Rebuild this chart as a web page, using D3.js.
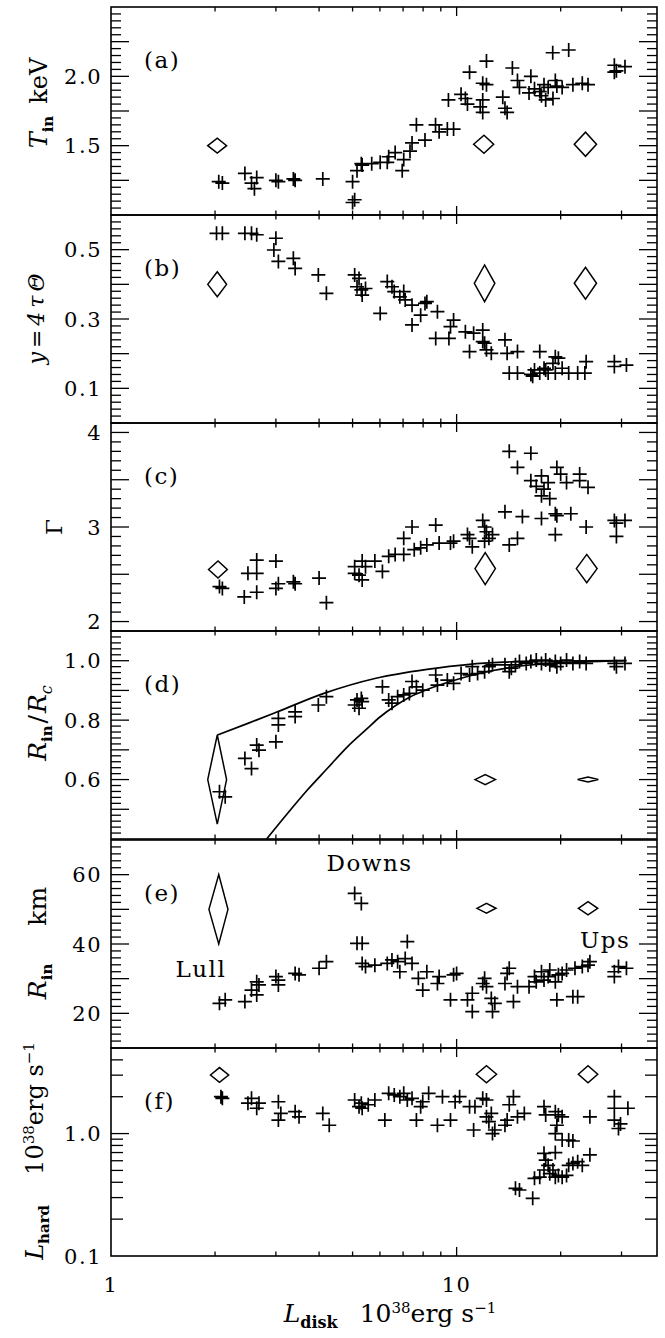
<!DOCTYPE html>
<html><head><meta charset="utf-8">
<script src="https://cdn.jsdelivr.net/npm/d3@7"></script>
<style>
body{margin:0;background:#fff}
svg{display:block}
text{font-family:"DejaVu Serif",serif;fill:#000}
</style>
</head><body>
<svg id="c" width="665" height="1338"></svg>
<script>
// ---------- DATA ----------
const xDomain = [1, 38];
const xTickValues = [1, 10];
const xTickLabels = ["1", "10"];

// panel (a) T_in keV
const tinDomain = [1.0, 2.5];
const tinTicks = [1.5, 2.0];
const tinTickLabels = ["1.5", "2.0"];
const tinData = [[2.05,1.24],[2.10,1.23],[2.44,1.30],[2.55,1.23],[2.64,1.27],[2.60,1.19],[3.0,1.25],[3.05,1.24],[3.37,1.26],[3.41,1.25],[4.1,1.26],[5.0,1.24],[5.07,1.11],[5.0,1.09],[5.15,1.32],[5.3,1.37],[5.33,1.36],[5.68,1.37],[6.01,1.38],[6.3,1.38],[6.36,1.42],[6.64,1.45],[6.96,1.32],[7.03,1.40],[7.33,1.46],[7.43,1.52],[7.65,1.65],[8.1,1.54],[8.69,1.65],[8.9,1.60],[9.4,1.62],[9.8,1.62],[9.47,1.83],[10.3,1.87],[10.6,1.84],[10.9,2.03],[10.75,1.80],[11.9,1.95],[12.2,2.11],[11.9,1.83],[11.7,1.78],[11.9,1.74],[12.2,1.94],[13.6,1.85],[13.8,1.77],[14.0,1.74],[14.5,2.06],[15.0,1.97],[15.2,1.92],[16.4,2.0],[16.8,1.91],[17.4,1.89],[17.9,1.94],[18.4,1.92],[18.97,2.17],[19.3,1.97],[19.0,1.84],[19.5,1.93],[20.2,1.92],[21.1,2.19],[21.7,1.94],[23.1,1.95],[24.0,1.94],[28.6,2.08],[29.0,2.04],[30.7,2.07],[28.6,2.03],[17.6,1.86],[18.1,1.83],[16.2,1.88]];
// diamonds: [x, y, xlo, xhi, ylo, yhi]
const tinDiamonds = [[2.03,1.50,1.905,2.16,1.446,1.554],[12.0,1.51,11.2,12.8,1.445,1.575],[23.6,1.51,21.9,25.4,1.423,1.597]];

// panel (b) y = 4 tau Theta
const yDomain = [0, 0.6];
const yTicks = [0.1, 0.3, 0.5];
const yTickLabels = ["0.1", "0.3", "0.5"];
const yData = [[2.02,0.547],[2.10,0.547],[2.44,0.547],[2.55,0.547],[2.64,0.543],[3.0,0.533],[2.96,0.499],[3.05,0.466],[3.37,0.475],[3.41,0.446],[3.98,0.427],[4.2,0.374],[5.07,0.427],[5.22,0.417],[5.15,0.393],[5.3,0.384],[5.45,0.388],[5.33,0.369],[6.01,0.316],[6.3,0.408],[6.5,0.393],[6.6,0.379],[6.85,0.364],[7.03,0.379],[7.1,0.355],[7.43,0.283],[7.43,0.34],[7.87,0.311],[8.1,0.345],[8.2,0.35],[8.8,0.321],[8.7,0.244],[9.5,0.244],[9.8,0.297],[9.6,0.278],[10.6,0.263],[10.9,0.206],[11.2,0.259],[11.9,0.268],[12.05,0.23],[12.2,0.211],[12.6,0.201],[11.9,0.235],[13.8,0.24],[14.0,0.201],[14.2,0.144],[15.0,0.206],[15.0,0.144],[16.4,0.14],[16.8,0.153],[17.4,0.206],[17.4,0.144],[17.9,0.158],[18.4,0.144],[19.0,0.172],[19.3,0.191],[19.7,0.187],[19.3,0.144],[20.2,0.158],[21.1,0.144],[22.4,0.144],[23.7,0.177],[23.5,0.144],[28.6,0.177],[28.6,0.163],[31,0.167],[16.6,0.135],[18.1,0.153]];
const yDiamonds = [[2.03,0.40,1.905,2.16,0.364,0.436],[12.05,0.403,11.25,12.9,0.35,0.456],[23.6,0.403,21.9,25.4,0.357,0.449]];

// panel (c) Gamma
const gammaDomain = [1.9, 4.1];
const gammaTicks = [2, 3, 4];
const gammaTickLabels = ["2", "3", "4"];
const gammaData = [[2.06,2.37],[2.10,2.35],[2.43,2.26],[2.49,2.51],[2.64,2.65],[2.64,2.51],[2.64,2.31],[3.0,2.64],[3.05,2.40],[3.0,2.35],[3.37,2.42],[3.41,2.40],[4.0,2.46],[4.2,2.20],[5.07,2.58],[5.07,2.51],[5.22,2.49],[5.33,2.44],[5.33,2.64],[5.45,2.58],[5.8,2.64],[6.1,2.53],[6.36,2.69],[6.64,2.71],[7.03,2.71],[7.03,2.88],[7.43,3.0],[7.54,2.76],[7.87,2.78],[8.2,2.81],[8.7,3.02],[8.9,2.83],[9.6,2.83],[9.8,2.85],[10.75,2.92],[10.9,2.88],[11.1,2.79],[11.9,3.07],[12.05,3.0],[12.2,2.95],[12.4,2.88],[12.05,2.85],[12.7,2.92],[13.8,3.16],[14.2,2.81],[15.0,2.88],[15.5,3.11],[14.2,3.80],[16.4,3.78],[15.0,3.63],[16.4,3.49],[17.0,3.43],[17.6,3.54],[17.9,3.40],[17.6,3.33],[18.4,3.47],[18.6,3.30],[19.5,3.63],[20.0,3.56],[20.8,3.47],[22.7,3.56],[22.7,3.49],[24.0,3.42],[17.6,3.09],[19.3,3.14],[19.3,2.92],[21.4,3.14],[23.7,3.0],[28.6,3.07],[29.0,3.04],[30.7,3.07],[29.0,2.90],[19.5,3.12]];
const gammaDiamonds = [[2.04,2.55,1.915,2.17,2.46,2.64],[12.1,2.56,11.3,12.95,2.39,2.73],[23.8,2.56,22.2,25.5,2.41,2.71]];

// panel (d) R_in/R_c
const ratioDomain = [0.4, 1.1];
const ratioTicks = [0.6, 0.8, 1.0];
const ratioTickLabels = ["0.6", "0.8", "1.0"];
const ratioData = [[2.06,0.559],[2.14,0.542],[2.44,0.671],[2.55,0.637],[2.64,0.716],[2.68,0.699],[3.05,0.806],[3.05,0.784],[3.0,0.727],[3.41,0.828],[3.41,0.812],[3.98,0.851],[4.2,0.879],[5.07,0.851],[5.15,0.868],[5.3,0.873],[5.33,0.862],[5.22,0.84],[6.1,0.912],[6.36,0.868],[6.5,0.857],[6.75,0.879],[7.03,0.885],[7.3,0.89],[7.43,0.93],[7.65,0.912],[7.98,0.901],[8.7,0.952],[8.8,0.918],[9.4,0.935],[9.8,0.924],[10.3,0.957],[10.9,0.952],[11.1,0.98],[11.5,0.957],[12.05,0.963],[12.4,0.98],[12.7,0.986],[13.8,0.986],[14.2,0.963],[14.8,0.986],[15.2,0.997],[16.4,0.997],[17.0,1.002],[17.6,0.991],[18.1,1.002],[18.6,0.986],[19.3,0.997],[20.0,0.991],[20.8,1.002],[21.7,0.991],[22.7,0.997],[23.7,0.991],[28.6,0.991],[29.0,0.98],[30.7,0.991],[15.9,0.991],[19.5,0.98],[14.4,0.975]];
const ratioDiamonds = [[2.03,0.60,1.905,2.16,0.45,0.75],[12.1,0.60,11.3,12.95,0.583,0.617],[24.0,0.60,22.4,25.7,0.5915,0.6085]];
const upperCurve = [[2.03,0.75],[2.5,0.79],[3.03,0.828],[4.13,0.89],[5.84,0.941],[8.21,0.971],[10.9,0.988],[13.7,0.995],[18,0.999],[31,1.0]];
const lowerCurve = [[2.82,0.40],[3.24,0.486],[3.70,0.565],[4.23,0.638],[4.83,0.71],[5.52,0.772],[6.0,0.8105],[6.63,0.8476],[7.33,0.8779],[8.15,0.9014],[9.7,0.9317],[12.5,0.9654],[16.3,0.9856],[22.8,0.9957],[31,1.0]];

// panel (e) R_in km
const rinDomain = [10, 70];
const rinTicks = [20, 40, 60];
const rinTickLabels = ["20", "40", "60"];
const rinData = [[2.06,22.9],[2.14,23.9],[2.44,23.4],[2.55,26.7],[2.64,25.3],[2.64,29.1],[2.68,28.2],[3.0,30.6],[3.05,29.6],[3.05,28.2],[3.41,31.5],[3.5,31.1],[4.0,33],[4.2,34.9],[5.07,54.6],[5.3,51.7],[5.15,40.2],[5.33,40.2],[5.33,34.4],[5.45,33.5],[5.8,33.9],[6.3,34.4],[6.5,35.4],[6.75,34.9],[6.85,32],[7.2,40.7],[7.1,35.8],[7.43,34.4],[7.75,30.1],[7.98,26.7],[8.2,32],[8.8,28.6],[8.9,30.6],[9.8,31.1],[10,31.5],[9.6,23.9],[10.75,23.9],[11.1,25.8],[11.1,20.5],[11.9,28.6],[12.05,30.1],[12.2,27.7],[12.6,24.3],[12.7,20.5],[12.9,22.9],[14.0,31.5],[14.2,33],[13.8,28.6],[14.6,23.4],[15.0,27.7],[16.2,27.7],[16.8,30.6],[17.0,29.1],[17.6,32],[17.9,29.6],[18.4,30.6],[18.6,32.5],[19.3,29.1],[19.5,23.9],[19.7,31.1],[20.2,31.5],[20.8,32.5],[21.7,24.8],[22.4,24.8],[22.0,33],[23.1,33.5],[24.0,33.9],[24.3,34.9],[28.6,32],[28.6,30.6],[29.4,33.5],[31,33]];
const rinDiamonds = [[2.05,50,1.92,2.18,40,60],[12.2,50.3,11.45,13.0,48.9,51.7],[24.0,50.3,22.5,25.6,48.4,52.2]];
const stateNames = ["Downs", "Lull", "Ups"];
const stateAnchors = [[5.6,61.0],[1.82,30.5],[26.9,38.8]];

// panel (f) L_hard
const lhardDomain = [0.1, 5];
const lhardTicks = [0.1, 1.0];
const lhardTickLabels = ["0.1", "1.0"];
const lhardData = [[2.08,2.0],[2.10,1.94],[2.49,1.77],[2.55,1.94],[2.64,1.61],[2.68,1.77],[3.05,1.82],[3.1,1.46],[3.05,1.29],[3.41,1.51],[3.5,1.37],[4.1,1.46],[4.28,1.17],[5.07,1.88],[5.22,1.66],[5.3,1.77],[5.33,1.61],[5.55,1.72],[5.8,1.88],[6.2,1.29],[6.36,2.13],[6.6,2.07],[6.85,2.0],[7.03,2.13],[7.2,1.88],[7.43,1.94],[7.65,1.29],[7.87,1.66],[7.98,1.82],[8.3,2.13],[8.8,1.17],[9.1,2.0],[9.6,1.29],[9.9,1.82],[10.2,2.0],[10.9,1.66],[11.2,1.07],[11.3,1.66],[11.9,1.94],[12.2,1.88],[12.2,1.37],[12.4,1.25],[12.6,1.46],[12.7,1.0],[12.9,1.07],[13.8,1.17],[14.0,1.29],[14.2,1.72],[14.6,2.0],[15.0,1.37],[15.7,1.46],[17.9,1.66],[19.3,1.51],[19.7,1.42],[20.2,1.37],[19.3,1.0],[19.5,1.17],[21.1,0.886],[21.7,0.87],[14.8,0.357],[15.2,0.346],[16.6,0.296],[16.8,0.431],[17.4,0.44],[17.9,0.504],[18.1,0.608],[17.9,0.69],[18.4,0.55],[18.6,0.47],[19.3,0.70],[19.0,0.504],[19.3,0.44],[19.7,0.455],[20.2,0.44],[20.8,0.455],[21.1,0.55],[21.7,0.57],[22.4,0.59],[23.1,0.55],[24.3,0.67],[24.3,1.37],[28.6,2.0],[28.6,1.61],[28.6,1.29],[29.4,1.1],[29.8,1.2],[31.3,1.61],[20.2,0.886],[18.1,1.42]];
const lhardDiamonds = [[2.06,3.01,1.94,2.19,2.62,3.46],[12.2,3.05,11.4,13.05,2.60,3.58],[24.0,3.05,22.5,25.6,2.60,3.58]];

// ---------- LAYOUT ----------
const LEFT = 111, RIGHT = 657;
const TOPS = [7, 215, 423, 631, 840, 1048];
const PH = 208;
const svg = d3.select('#c');
const x = d3.scaleLog().domain(xDomain).range([LEFT, RIGHT]);
const xMinor = [2,3,4,5,6,7,8,9,20,30];

const rng = (a,b,s) => d3.range(Math.round(a/s), Math.round(b/s)+1).map(i => +(i*s).toFixed(4));

const panels = [
  {lab:'(a)', data:tinData, dia:tinDiamonds, dom:tinDomain, log:false, ticks:tinTicks, tl:tinTickLabels,
   major:rng(1.25,2.25,0.25), minor:rng(1.05,2.45,0.05)},
  {lab:'(b)', data:yData, dia:yDiamonds, dom:yDomain, log:false, ticks:yTicks, tl:yTickLabels,
   major:rng(0.1,0.5,0.1), minor:rng(0.02,0.58,0.02)},
  {lab:'(c)', data:gammaData, dia:gammaDiamonds, dom:gammaDomain, log:false, ticks:gammaTicks, tl:gammaTickLabels,
   major:rng(2,4,0.5), minor:rng(2,4.1,0.1)},
  {lab:'(d)', data:ratioData, dia:ratioDiamonds, dom:ratioDomain, log:false, ticks:ratioTicks, tl:ratioTickLabels,
   major:rng(0.5,1.0,0.1), minor:rng(0.42,1.08,0.02)},
  {lab:'(e)', data:rinData, dia:rinDiamonds, dom:rinDomain, log:false, ticks:rinTicks, tl:rinTickLabels,
   major:rng(20,60,10), minor:rng(12,68,2)},
  {lab:'(f)', data:lhardData, dia:lhardDiamonds, dom:lhardDomain, log:true, ticks:lhardTicks, tl:lhardTickLabels,
   major:[1], minor:[0.2,0.3,0.4,0.5,0.6,0.7,0.8,0.9,2,3,4]}
];

panels.forEach((p, i) => {
  const top = TOPS[i], bot = top + PH;
  const y = (p.log ? d3.scaleLog() : d3.scaleLinear()).domain(p.dom).range([bot, top]);
  p.y = y;
  const g = svg.append('g');

  // ticks
  const tk = g.append('g').attr('stroke', '#000').attr('stroke-width', 1.3);
  const yt = (v, len) => {
    const py = y(v);
    tk.append('line').attr('x1', LEFT).attr('x2', LEFT + len).attr('y1', py).attr('y2', py);
    tk.append('line').attr('x1', RIGHT).attr('x2', RIGHT - len).attr('y1', py).attr('y2', py);
  };
  p.minor.forEach(v => { if (!p.major.includes(v)) yt(v, p.log ? 12 : 10); });
  p.major.forEach(v => yt(v, 18));
  const xt = (v, len) => {
    const px = x(v);
    tk.append('line').attr('x1', px).attr('x2', px).attr('y1', bot).attr('y2', bot - len);
    tk.append('line').attr('x1', px).attr('x2', px).attr('y1', top).attr('y2', top + len);
  };
  xMinor.forEach(v => xt(v, 4.5));
  xt(10, 9);

  // frame
  g.append('rect').attr('x', LEFT).attr('y', top).attr('width', RIGHT - LEFT).attr('height', PH)
    .attr('fill', 'none').attr('stroke', '#000').attr('stroke-width', 1.6);

  // tick labels
  g.selectAll('text.tl').data(p.ticks).join('text')
    .attr('x', LEFT - 9).attr('y', v => y(v)).attr('dy', '0.36em')
    .attr('text-anchor', 'end').attr('font-size', 21).attr('letter-spacing', 1.5)
    .text((v, k) => p.tl[k]);

  // panel letter
  g.append('text').attr('x', 144).attr('y', top + 61).attr('font-size', 23).attr('letter-spacing', 1.5).text(p.lab);

  // diamonds
  g.selectAll('polygon').data(p.dia).join('polygon')
    .attr('points', d => [[x(d[2]), y(d[1])], [x(d[0]), y(d[5])], [x(d[3]), y(d[1])], [x(d[0]), y(d[4])]].map(q => q.join(',')).join(' '))
    .attr('fill', 'none').attr('stroke', '#000').attr('stroke-width', 1.5);

  // crosses
  const h = 7;
  g.append('path')
    .attr('d', p.data.map(d => {
      const px = x(d[0]), py = y(d[1]);
      return `M${px - h},${py}H${px + h}M${px},${py - h}V${py + h}`;
    }).join(''))
    .attr('fill', 'none').attr('stroke', '#000').attr('stroke-width', 1.7);
});

// model curves in panel d
{
  const p = panels[3];
  const line = d3.line().x(d => x(d[0])).y(d => p.y(d[1])).curve(d3.curveMonotoneX);
  svg.append('path').attr('d', line(upperCurve)).attr('fill', 'none').attr('stroke', '#000').attr('stroke-width', 1.7);
  svg.append('path').attr('d', line(lowerCurve)).attr('fill', 'none').attr('stroke', '#000').attr('stroke-width', 1.7);
}

// state labels in panel e
{
  const p = panels[4];
  svg.selectAll('text.st').data(stateNames).join('text')
    .attr('x', (d, k) => x(stateAnchors[k][0])).attr('y', (d, k) => p.y(stateAnchors[k][1]))
    .attr('text-anchor', 'middle').attr('font-size', 23).attr('letter-spacing', 1.5)
    .text(d => d);
}

// x tick labels
svg.selectAll('text.xt').data(xTickValues).join('text')
  .attr('x', d => x(d)).attr('y', 1292).attr('text-anchor', 'middle')
  .attr('font-size', 21).attr('letter-spacing', 1.5)
  .text((d, k) => xTickLabels[k]);

// axis titles
function rotLabel(cx, cy, fs, build) {
  const t = svg.append('text').attr('transform', `translate(${cx},${cy}) rotate(-90)`)
    .attr('text-anchor', 'middle').attr('font-size', fs);
  build(t);
}
const sub = (t, s, fs = 15) => t.append('tspan').attr('font-size', fs).attr('font-weight', 'bold').attr('dy', 6).text(s);
const up = (t, s, extraDx = 0) => t.append('tspan').attr('dy', -6).attr('dx', extraDx).text(s);
const sup = (t, s) => t.append('tspan').attr('font-size', 15).attr('dy', -9).text(s);
const back = (t, s) => t.append('tspan').attr('dy', 9).text(s);

rotLabel(47, 103, 24, t => {
  t.append('tspan').attr('font-style', 'italic').text('T');
  sub(t, 'in');
  up(t, 'keV', 12);
});
rotLabel(44, 317, 22, t => {
  t.attr('font-style', 'italic').attr('letter-spacing', 4).text('y=4τΘ');
});
rotLabel(62, 527, 23, t => { t.text('Γ'); });
rotLabel(46, 723, 25, t => {
  t.append('tspan').attr('font-style', 'italic').text('R');
  sub(t, 'in');
  up(t, '/', 2);
  t.append('tspan').attr('font-style', 'italic').attr('dx', 2).text('R');
  t.append('tspan').attr('font-style', 'italic').attr('font-size', 16).attr('dy', 6).text('c');
});
rotLabel(46, 943, 25, t => {
  t.append('tspan').attr('font-style', 'italic').text('R');
  sub(t, 'in');
  up(t, 'km', 38);
});
rotLabel(43, 1151, 24, t => {
  t.append('tspan').attr('font-style', 'italic').text('L');
  sub(t, 'hard');
  up(t, '10', 30);
  sup(t, '38');
  back(t, 'erg s');
  sup(t, '−1');
});
{
  const t = svg.append('text').attr('x', 390).attr('y', 1322).attr('text-anchor', 'middle').attr('font-size', 25);
  t.append('tspan').attr('font-style', 'italic').text('L');
  sub(t, 'disk', 16);
  up(t, '10', 22);
  sup(t, '38');
  back(t, 'erg s');
  sup(t, '−1');
}
</script>
</body></html>
